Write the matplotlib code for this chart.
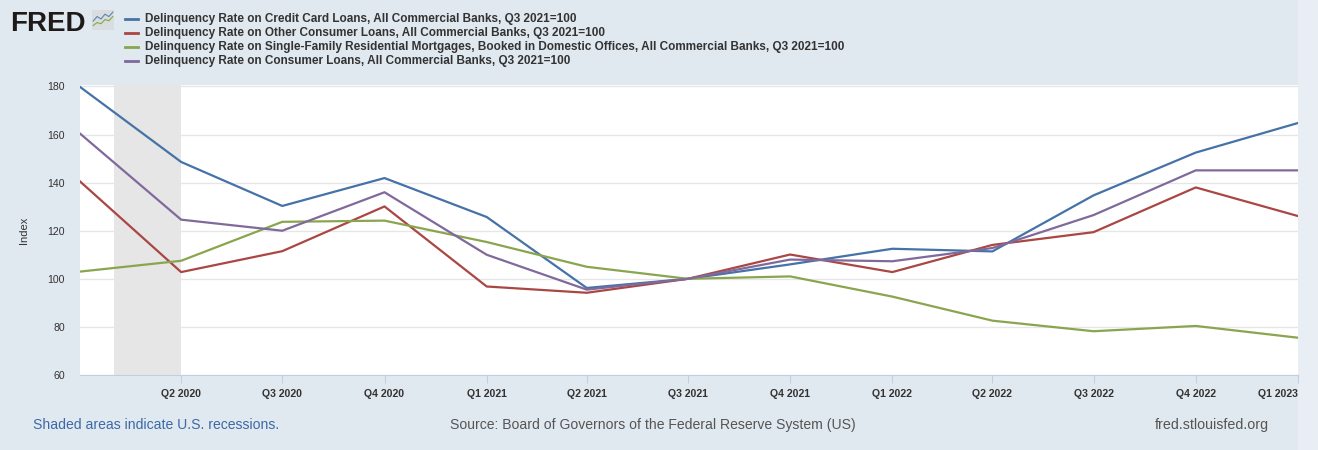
import matplotlib
matplotlib.use("Agg")
import matplotlib.pyplot as plt
from matplotlib.lines import Line2D
from matplotlib.patches import Rectangle
import pandas as pd

# quarterly observations, Q3 2021 = 100
quarters = ["2020-01-01", "2020-04-01", "2020-07-01", "2020-10-01",
            "2021-01-01", "2021-04-01", "2021-07-01", "2021-10-01",
            "2022-01-01", "2022-04-01", "2022-07-01", "2022-10-01",
            "2023-01-01"]
tick_labels = ["Q2 2020", "Q3 2020", "Q4 2020", "Q1 2021", "Q2 2021", "Q3 2021",
               "Q4 2021", "Q1 2022", "Q2 2022", "Q3 2022", "Q4 2022", "Q1 2023"]

credit_card = [179.8, 148.6, 130.3, 141.9, 125.7, 96.2, 100.0, 106.0, 112.5, 111.4, 134.7, 152.5, 164.8]
other_consumer = [140.5, 102.8, 111.5, 130.1, 96.8, 94.2, 100.0, 110.1, 102.8, 114.1, 119.4, 138.0, 126.1]
mortgages = [103.0, 107.5, 123.7, 124.2, 115.3, 105.0, 100.0, 101.0, 92.6, 82.6, 78.2, 80.4, 75.5]
consumer = [160.4, 124.6, 120.0, 136.0, 110.0, 95.5, 100.0, 108.0, 107.3, 112.8, 126.5, 145.1, 145.1]

series_names = [
    "Delinquency Rate on Credit Card Loans, All Commercial Banks, Q3 2021=100",
    "Delinquency Rate on Other Consumer Loans, All Commercial Banks, Q3 2021=100",
    "Delinquency Rate on Single-Family Residential Mortgages, Booked in Domestic Offices, All Commercial Banks, Q3 2021=100",
    "Delinquency Rate on Consumer Loans, All Commercial Banks, Q3 2021=100",
]
recession_start, recession_end = "2020-02-01", "2020-04-01"

colors = ["#4572A7", "#AA4643", "#89A54E", "#80699B"]
BG = "#E1E9F0"
SANS = ["Liberation Sans", "DejaVu Sans"]

W, H = 1318, 450
fig = plt.figure(figsize=(W / 100, H / 100), dpi=100, facecolor=BG)
fig.add_artist(Rectangle((1298 / W, 0), 20 / W, 1, transform=fig.transFigure,
                         facecolor="#E8EEF4", edgecolor="none", zorder=-1))

ax = fig.add_axes([80 / W, 1 - 375 / H, 1218 / W, 290 / H])
ax.set_facecolor("white")

x = pd.to_datetime(quarters)
ax.axvspan(pd.Timestamp(recession_start), pd.Timestamp(recession_end),
           color="#E6E6E6", lw=0, zorder=1)
for vals, c in zip([credit_card, other_consumer, mortgages, consumer], colors):
    ax.plot(x, vals, color=c, lw=1.6, zorder=3, solid_joinstyle="round")

ax.set_xlim(x[0], x[-1])
ax.set_ylim(60, 180.6)
ax.set_yticks(range(60, 181, 20))
ax.set_xticks(x[1:])
ax.set_xticklabels(tick_labels)
ax.grid(axis="y", color="#E6E6E6", lw=1, zorder=0)
for s in ["top", "right", "left"]:
    ax.spines[s].set_visible(False)
ax.spines["bottom"].set_color("#C0D0E0")
ax.tick_params(axis="x", length=6, color="#C0D0E0", pad=4, labelsize=7.6,
               labelcolor="#333333")
ax.tick_params(axis="y", length=0, pad=11, labelsize=7.6, labelcolor="#333333")
for lab in ax.get_xticklabels():
    lab.set_family(SANS)
    lab.set_fontweight("bold")
ax.get_xticklabels()[-1].set_horizontalalignment("right")
for lab in ax.get_yticklabels():
    lab.set_family(SANS)
ax.set_ylabel("Index", family=SANS, fontsize=8, color="#333333", labelpad=13)

# header: FRED mark and legend
fig.text(10 / W, 1 - 31 / H, "FRED", family=SANS, fontweight="bold", fontsize=20,
         color="#1E1A1A", va="baseline")
icon = fig.add_axes([92 / W, 1 - 30 / H, 22 / W, 20 / H])
icon.set_facecolor("#DADDDF")
icon.plot([0, 1, 2, 3, 4, 5], [2.5, 4, 3.2, 4.8, 4, 5.5], color="#5B84B1", lw=0.8)
icon.plot([0, 1, 2, 3, 4, 5], [1, 2, 1.6, 3, 2.6, 4], color="#7FA94B", lw=0.8)
icon.set_xlim(-0.3, 5.3)
icon.set_ylim(-0.5, 6.2)
icon.set_xticks([])
icon.set_yticks([])
for s in icon.spines.values():
    s.set_visible(False)

for i, (name, c) in enumerate(zip(series_names, colors)):
    yy = 1 - (19 + 14 * i) / H
    fig.add_artist(Line2D([125 / W, 138 / W], [yy, yy], transform=fig.transFigure,
                          color=c, lw=2))
    fig.text(145 / W, yy, name, family=SANS, fontweight="bold", fontsize=8.45,
             color="#333333", va="center")

# footer
fig.text(33 / W, 1 - 425 / H, "Shaded areas indicate U.S. recessions.", family=SANS,
         fontsize=10.1, color="#3C69A5", va="center")
fig.text(653 / W, 1 - 425 / H, "Source: Board of Governors of the Federal Reserve System (US)",
         family=SANS, fontsize=10.1, color="#555555", va="center", ha="center")
fig.text(1155 / W, 1 - 425 / H, "fred.stlouisfed.org", family=SANS, fontsize=10.3,
         color="#555555", va="center")

fig.savefig("out.png", dpi=100, facecolor=BG)
